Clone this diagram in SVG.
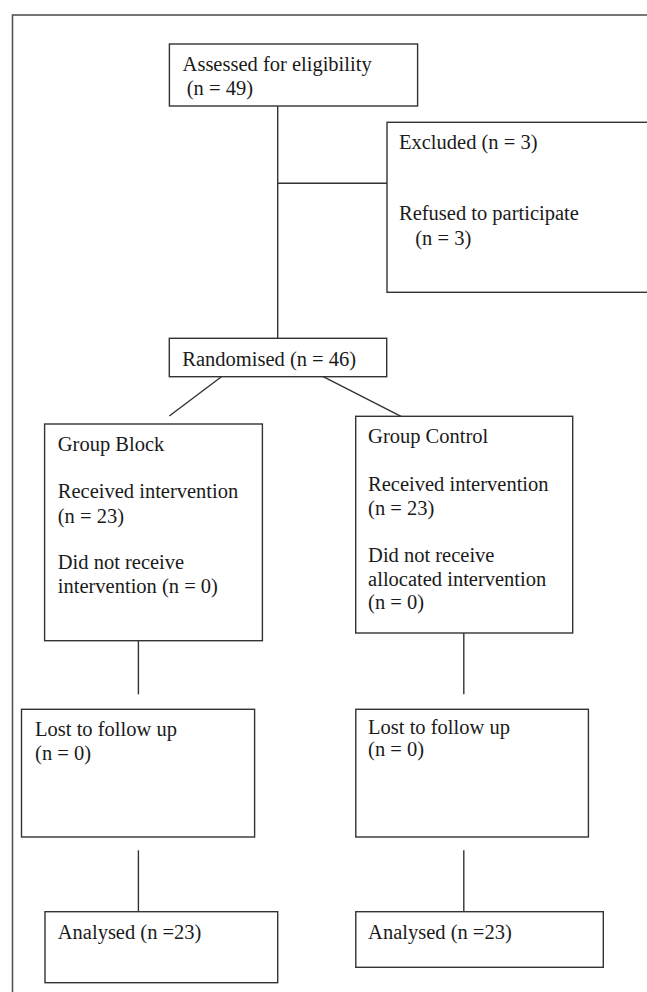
<svg xmlns="http://www.w3.org/2000/svg" width="647" height="992" viewBox="0 0 647 992">
<style>
.box{fill:#fff;stroke:#333;stroke-width:1.4}
.frame{fill:none;stroke:#555;stroke-width:1.6}
.ln{stroke:#333;stroke-width:1.4;fill:none}
text{font-family:"Liberation Serif","Times New Roman",serif;font-size:20.5px;fill:#1a1a1a}
</style>
<rect width="647" height="992" fill="#fff"/>
<rect class="frame" x="12.5" y="15" width="700" height="1000"/>
<g id="connectors">
<line class="ln" x1="277.7" y1="106" x2="277.7" y2="338.3"/>
<line class="ln" x1="277.7" y1="183.3" x2="387" y2="183.3"/>
<line class="ln" x1="231.4" y1="369.3" x2="169.3" y2="416"/>
<line class="ln" x1="309" y1="369.3" x2="401" y2="416.3"/>
<line class="ln" x1="138.4" y1="633.3" x2="138.4" y2="694.3"/>
<line class="ln" x1="463.8" y1="633" x2="463.8" y2="694.3"/>
<line class="ln" x1="138.4" y1="850.3" x2="138.4" y2="911.7"/>
<line class="ln" x1="463.8" y1="850.3" x2="463.8" y2="911.7"/>
</g>
<g id="assessed">
<rect class="box" x="169.4" y="44" width="248.2" height="62"/>
<text x="182.6" y="70.7">Assessed for eligibility</text>
<text x="186.8" y="95">(n = 49)</text>
</g>
<g id="excluded">
<rect class="box" x="387" y="122.3" width="300" height="170"/>
<text x="399" y="149">Excluded (n = 3)</text>
<text x="399" y="220">Refused to participate</text>
<text x="415.3" y="245">(n = 3)</text>
</g>
<g id="randomised">
<rect class="box" x="169.3" y="338.3" width="217.4" height="38.4"/>
<text x="182.3" y="365.7">Randomised (n = 46)</text>
</g>
<g id="group-block">
<rect class="box" x="44.6" y="424" width="217.8" height="216.7"/>
<text x="57.8" y="450.7">Group Block</text>
<text x="57.8" y="498.3">Received intervention</text>
<text x="57.8" y="522.7">(n = 23)</text>
<text x="57.8" y="569">Did not receive</text>
<text x="57.8" y="592.7">intervention (n = 0)</text>
</g>
<g id="group-control">
<rect class="box" x="355.7" y="416.3" width="217" height="216.7"/>
<text x="368.1" y="442.7">Group Control</text>
<text x="368.1" y="490.7">Received intervention</text>
<text x="368.1" y="515">(n = 23)</text>
<text x="368.1" y="561.7">Did not receive</text>
<text x="368.1" y="585.7">allocated intervention</text>
<text x="368.1" y="609.3">(n = 0)</text>
</g>
<g id="lost-block">
<rect class="box" x="21.5" y="709.3" width="233.1" height="127.7"/>
<text x="35.1" y="736">Lost to follow up</text>
<text x="35.1" y="760">(n = 0)</text>
</g>
<g id="lost-control">
<rect class="box" x="355.8" y="709.3" width="232.6" height="127.7"/>
<text x="368.1" y="734">Lost to follow up</text>
<text x="368.1" y="756">(n = 0)</text>
</g>
<g id="analysed-block">
<rect class="box" x="45" y="911.7" width="232.7" height="71"/>
<text x="57.8" y="939">Analysed (n =23)</text>
</g>
<g id="analysed-control">
<rect class="box" x="355.8" y="911.7" width="247.5" height="55.6"/>
<text x="368.1" y="939">Analysed (n =23)</text>
</g>
</svg>
